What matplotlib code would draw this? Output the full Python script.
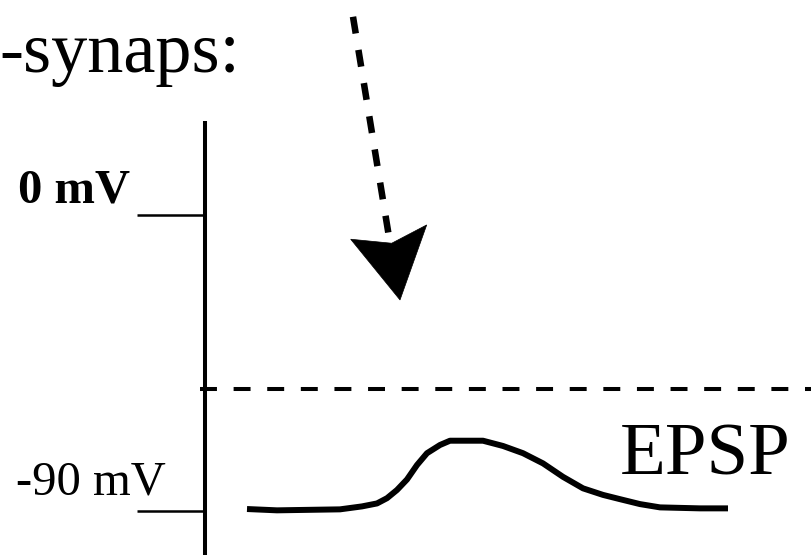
import matplotlib
matplotlib.use("Agg")
import matplotlib.pyplot as plt
from matplotlib.patches import Polygon

plt.rcParams['font.family'] = ['Liberation Serif', 'DejaVu Serif']
plt.rcParams['lines.scale_dashes'] = False

# membrane potential levels (mV)
tick_values = [0, -90]
tick_labels = ['0 mV', '-90 mV']
threshold = -53

# EPSP trace: time (ms) and potential (mV)
epsp_t = [4.2, 7.2, 13.5, 15.7, 17.2, 18.2, 19.2, 20.2, 21.2, 22.2, 23.5, 24.5,
          27.8, 29.8, 31.8, 33.8, 35.8, 37.8, 39.8, 41.5, 43.5, 45.5, 49.5, 52.3]
epsp_v = [-89.4, -89.8, -89.5, -88.6, -87.7, -86.1, -83.6, -80.4, -76.0, -72.4, -69.9, -68.6,
          -68.6, -70.2, -72.4, -75.5, -79.6, -83.1, -85.1, -86.4, -87.9, -88.9, -89.2, -89.2]

# incoming signal arrow (time, mV)
arrow_start = (14.8, 60.5)
arrow_end = (18.5, -8.4)
arrow_head = [(14.57, -7.25), (18.67, -8.47), (22.17, -2.89), (19.5, -25.74)]

fig = plt.figure(figsize=(8.11, 5.55), dpi=100)
ax = fig.add_axes([0, 0, 1, 1])
ax.set_xlim(-20.5, 60.6)
ax.set_ylim(-103.4, 65.6)
ax.axis('off')

# vertical axis and ticks
ax.plot([0, 0], [28.8, -110], color='black', lw=2.9, solid_capstyle='butt')
for v, lab in zip(tick_values, tick_labels):
    ax.plot([-6.8, 0], [v, v], color='black', lw=1.8, solid_capstyle='butt')
ax.text(-18.7, 3.8, tick_labels[0], fontsize=35, fontweight='bold', ha='left', va='baseline')
ax.text(-18.9, -85.1, tick_labels[1], fontsize=35, ha='left', va='baseline')

# threshold
ax.plot([-0.55, 61], [threshold, threshold], color='black', lw=2.9,
        dashes=(12.2, 12.0), dash_capstyle='butt')

# EPSP
ax.plot(epsp_t, epsp_v, color='black', lw=4.3, solid_capstyle='butt', solid_joinstyle='round')
ax.text(41.5, -79.0, 'EPSP', fontsize=54, ha='left', va='baseline')

# title fragment (cut off at the left edge, as in the source slide)
ax.text(-20.6, 43.8, '-synaps:', fontsize=52, ha='left', va='baseline')

# arrow
ax.plot([arrow_start[0], arrow_end[0]], [arrow_start[1], arrow_end[1]], color='black',
        lw=4.7, dashes=(12.2, 12.0), dash_capstyle='butt')
ax.add_patch(Polygon(arrow_head, closed=True, facecolor='black', edgecolor='black', lw=0.5))

fig.savefig('out.png', dpi=100)
